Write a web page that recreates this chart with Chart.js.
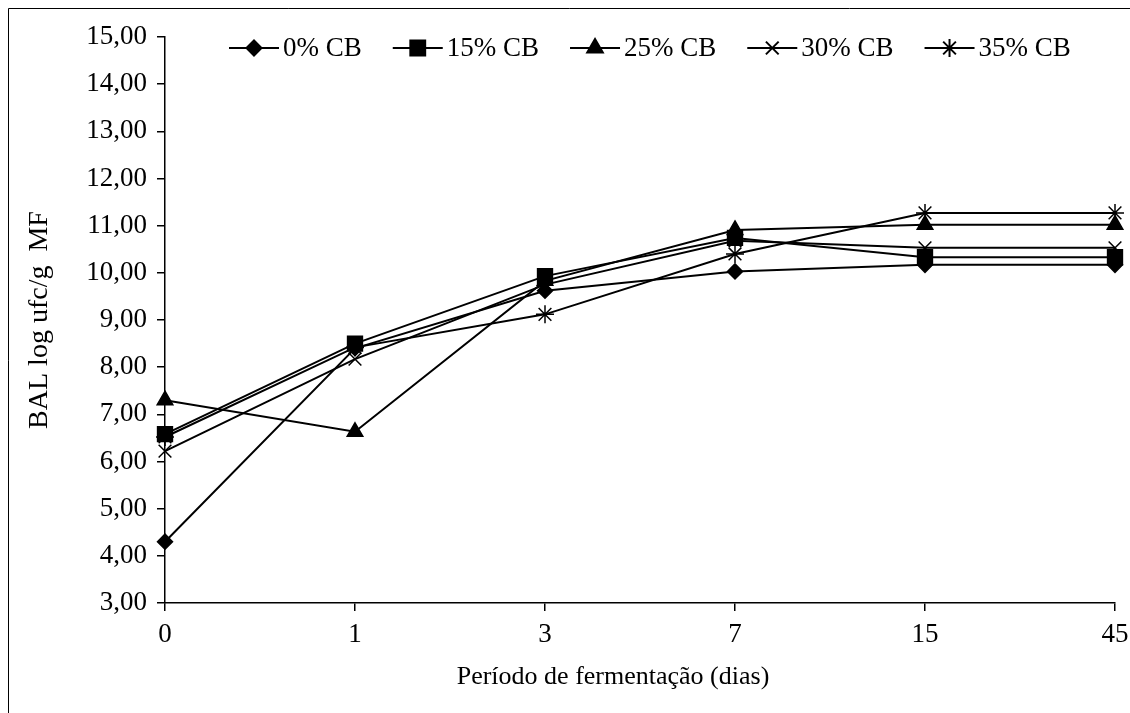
<!DOCTYPE html>
<html>
<head>
<meta charset="utf-8">
<script src="https://cdn.jsdelivr.net/npm/chart.js@4.4.0/dist/chart.umd.min.js"></script>
<style>
  html, body { margin: 0; padding: 0; background: #fff; }
  #wrap { width: 1130px; height: 713px; position: relative; }
</style>
</head>
<body>
<div id="wrap"><canvas id="chart"></canvas></div>
<script>
// data
const days = ['0', '1', '3', '7', '15', '45'];
const cb0  = [4.30, 8.40, 9.62, 10.03, 10.17, 10.17];
const cb15 = [6.58, 8.50, 9.93, 10.74, 10.33, 10.33];
const cb25 = [7.30, 6.63, 9.83, 10.91, 11.02, 11.02];
const cb30 = [6.22, 8.17, 9.75, 10.68, 10.53, 10.53];
const cb35 = [6.52, 8.42, 9.12, 10.40, 11.27, 11.27];
const seriesNames = ['0% CB', '15% CB', '25% CB', '30% CB', '35% CB'];
const yMin = 3, yMax = 15, yStep = 1;
const xTitle = 'Período de fermentação (dias)';
const yTitle = 'BAL log ufc/g  MF';

const FONT = "'Liberation Serif', 'Times New Roman', serif";
const markers = [
  { style: 'rectRot', r: 7.5 },
  { style: 'rect', r: 10.5 },
  { style: 'triangle', r: 9 },
  { style: 'crossRot', r: 9 },
  { style: 'star', r: 9 }
];
const values = [cb0, cb15, cb25, cb30, cb35];

const datasets = values.map((v, i) => ({
  label: seriesNames[i],
  data: v,
  borderColor: '#000',
  backgroundColor: '#000',
  borderWidth: 2,
  pointStyle: markers[i].style,
  pointRadius: markers[i].r,
  pointBorderWidth: 1.5,
  pointBackgroundColor: '#000',
  pointBorderColor: '#000',
  tension: 0,
  fill: false
}));

// legend inside the plot (line + marker + text), x title, outer frame
const extras = {
  id: 'extras',
  afterDraw(chart) {
    const ctx = chart.ctx;
    const y = 48;
    let x0 = 229;
    ctx.save();
    ctx.font = '27px ' + FONT;
    ctx.textBaseline = 'middle';
    ctx.textAlign = 'left';
    seriesNames.forEach((name, i) => {
      ctx.strokeStyle = '#000';
      ctx.lineWidth = 2;
      ctx.beginPath();
      ctx.moveTo(x0, y);
      ctx.lineTo(x0 + 50, y);
      ctx.stroke();
      ctx.fillStyle = '#000';
      Chart.helpers.drawPoint(ctx, {
        pointStyle: markers[i].style, radius: markers[i].r, rotation: 0, borderWidth: 1.5
      }, x0 + 25, y);
      ctx.fillStyle = '#000';
      ctx.fillText(name, x0 + 54, y + 1);
      x0 += 54 + ctx.measureText(name).width + 31;
    });
    ctx.font = '26px ' + FONT;
    ctx.textAlign = 'center';
    ctx.fillText(xTitle, 613, 677);
    ctx.strokeStyle = '#000';
    ctx.lineWidth = 1;
    ctx.beginPath();
    ctx.moveTo(8.5, 713);
    ctx.lineTo(8.5, 8.5);
    ctx.lineTo(1130, 8.5);
    ctx.stroke();
    ctx.restore();
  }
};

new Chart(document.getElementById('chart'), {
  type: 'line',
  data: { labels: days, datasets: datasets },
  options: {
    responsive: true,
    maintainAspectRatio: false,
    animation: false,
    layout: { padding: { left: 0, top: 37, right: 15, bottom: 0 } },
    plugins: { legend: { display: false }, tooltip: { enabled: false } },
    scales: {
      x: {
        offset: false,
        grid: { display: true, drawOnChartArea: false, drawTicks: true, tickLength: 8, color: '#000', lineWidth: 1.5 },
        border: { display: true, color: '#000', width: 1.5 },
        ticks: { color: '#000', font: { family: FONT, size: 27 }, padding: 8, maxRotation: 0 },
        afterFit(scale) { scale.height = 110; scale.paddingRight = 0; scale.paddingLeft = 0; }
      },
      y: {
        min: yMin, max: yMax,
        grid: { display: true, drawOnChartArea: false, drawTicks: true, tickLength: 8, color: '#000', lineWidth: 1.5 },
        border: { display: true, color: '#000', width: 1.5 },
        ticks: {
          stepSize: yStep, color: '#000', font: { family: FONT, size: 27 }, padding: 10,
          callback: v => v.toFixed(2).replace('.', ',')
        },
        title: { display: true, text: yTitle, color: '#000', font: { family: FONT, size: 28 }, padding: { top: 23, bottom: 0 } },
        afterFit(scale) { scale.width = 165; scale.paddingTop = 0; scale.paddingBottom = 0; }
      }
    }
  },
  plugins: [extras]
});
</script>
</body>
</html>
